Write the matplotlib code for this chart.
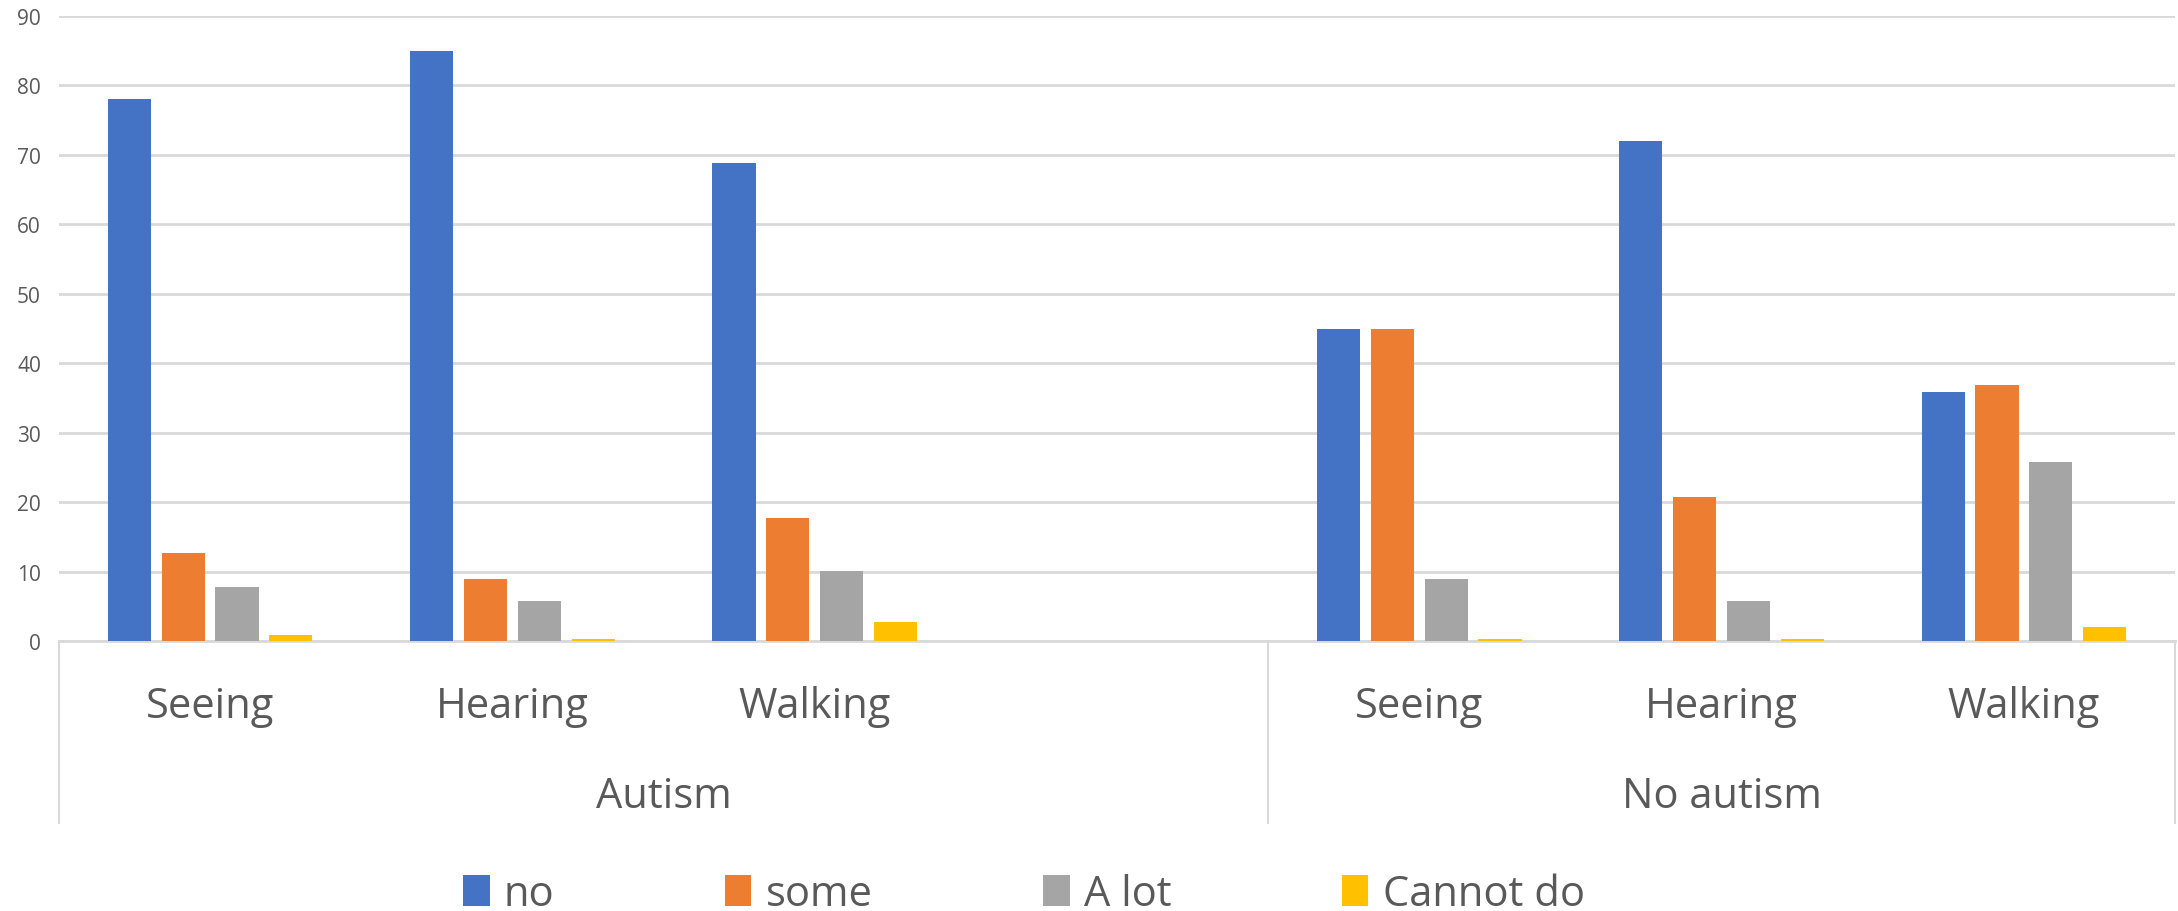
import numpy as np
import matplotlib.pyplot as plt
import matplotlib.transforms as transforms
from matplotlib.patches import Patch

plt.rcParams['font.family'] = ['Open Sans', 'DejaVu Sans']

# categories (blank slot after Autism group, as in the original sheet)
group_names = ["Autism", "No autism"]
group_sizes = [4, 3]
sub_labels = ["Seeing", "Hearing", "Walking", "", "Seeing", "Hearing", "Walking"]

# series values, nan = empty category
no_vals = [78, 85, 68.8, np.nan, 45, 72, 35.8]
some_vals = [12.7, 8.9, 17.7, np.nan, 45, 20.8, 36.9]
alot_vals = [7.8, 5.8, 10.1, np.nan, 8.9, 5.8, 25.8]
cannot_vals = [0.9, 0.3, 2.8, np.nan, 0.3, 0.3, 2.0]

series_names = ["no", "some", "A lot", "Cannot do"]
colors = ["#4472C4", "#ED7D31", "#A5A5A5", "#FFC000"]
text_col = "#595959"
grid_col = "#D9D9D9"

fig = plt.figure(figsize=(21.78, 9.12), dpi=100)
ax = fig.add_axes([59 / 2178, 1 - 642 / 912, 2116 / 2178, 625 / 912])

x = np.arange(len(sub_labels))
width = 0.143
step = 0.178
all_vals = [no_vals, some_vals, alot_vals, cannot_vals]
for i, (vals, c, name) in enumerate(zip(all_vals, colors, series_names)):
    ax.bar(x + (i - 1.5) * step, vals, width, color=c, label=name, zorder=3)

ax.set_xlim(-0.5, len(sub_labels) - 0.5)
ax.set_ylim(0, 90)
ax.set_yticks(np.arange(0, 91, 10))
ax.set_xticks([])
ax.yaxis.grid(True, color=grid_col, linewidth=2)
ax.set_axisbelow(True)
for s in ['top', 'right', 'left']:
    ax.spines[s].set_visible(False)
ax.spines['bottom'].set_color(grid_col)
ax.spines['bottom'].set_linewidth(2)
ax.tick_params(axis='y', length=0, pad=13, labelsize=15, labelcolor=text_col)

# multi-level category axis
trans = transforms.blended_transform_factory(ax.transData, ax.transAxes)
for xi, lab in zip(x, sub_labels):
    ax.text(xi, -0.1216, lab, transform=trans, ha='center', va='baseline',
            fontsize=30, color=text_col)
bounds = np.concatenate([[0], np.cumsum(group_sizes)]) - 0.5
for b in bounds:
    ax.plot([b, b], [0, -0.291], transform=trans, clip_on=False,
            color=grid_col, linewidth=1.5)
for name, lo, hi in zip(group_names, bounds[:-1], bounds[1:]):
    ax.text((lo + hi) / 2, -0.2656, name, transform=trans, ha='center',
            va='baseline', fontsize=30, color=text_col)

handles = [Patch(facecolor=c, label=n) for c, n in zip(colors, series_names)]
fig.legend(handles=handles, loc='center', bbox_to_anchor=(1024 / 2178, 17 / 912),
           ncol=4, frameon=False, fontsize=30, handlelength=0.63, handleheight=0.75,
           handletextpad=0.34, columnspacing=4.1, borderpad=0, labelcolor=text_col)

fig.savefig("out.png", dpi=100)
